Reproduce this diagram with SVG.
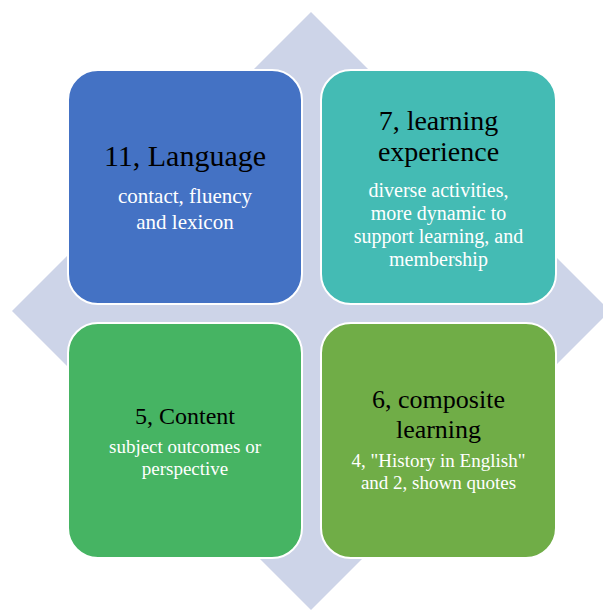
<svg xmlns="http://www.w3.org/2000/svg" width="603" height="612" viewBox="0 0 603 612">
<style>
.box{stroke:#ffffff;stroke-width:2}
.t{font-family:"Liberation Serif","Times New Roman",serif;text-anchor:middle;fill:#000000}
.s{font-family:"Liberation Serif","Times New Roman",serif;text-anchor:middle;fill:#ffffff}
</style>
<rect width="603" height="612" fill="#ffffff"/>
<polygon id="diamond" points="311,12 610,311 311,610 12,311" fill="#CDD4E8"/>
<g id="connectors"></g>
<g id="language">
<rect class="box" x="68" y="70" width="234" height="234" rx="30" fill="#4472C4"/>
<text class="t" x="185" y="166" font-size="30">11, Language</text>
<text class="s" x="185" y="203" font-size="21">contact, fluency</text>
<text class="s" x="185" y="229" font-size="21">and lexicon</text>
</g>
<g id="experience">
<rect class="box" x="321" y="70" width="235" height="234" rx="30" fill="#44BBB4"/>
<text class="t" x="438.5" y="130" font-size="28">7, learning</text>
<text class="t" x="438.5" y="161" font-size="28">experience</text>
<text class="s" x="438.5" y="197" font-size="20">diverse activities,</text>
<text class="s" x="438.5" y="220" font-size="20">more dynamic to</text>
<text class="s" x="438.5" y="243" font-size="20">support learning, and</text>
<text class="s" x="438.5" y="266" font-size="20">membership</text>
</g>
<g id="content">
<rect class="box" x="68" y="323" width="234" height="235" rx="30" fill="#46B463"/>
<text class="t" x="185" y="424" font-size="24">5, Content</text>
<text class="s" x="185" y="453" font-size="19">subject outcomes or</text>
<text class="s" x="185" y="475" font-size="19">perspective</text>
</g>
<g id="composite">
<rect class="box" x="321" y="323" width="235" height="235" rx="30" fill="#70AD47"/>
<text class="t" x="438.5" y="408" font-size="26">6, composite</text>
<text class="t" x="438.5" y="438" font-size="26">learning</text>
<text class="s" x="438.5" y="467" font-size="19">4, "History in English"</text>
<text class="s" x="438.5" y="489" font-size="19">and 2, shown quotes</text>
</g>
</svg>
